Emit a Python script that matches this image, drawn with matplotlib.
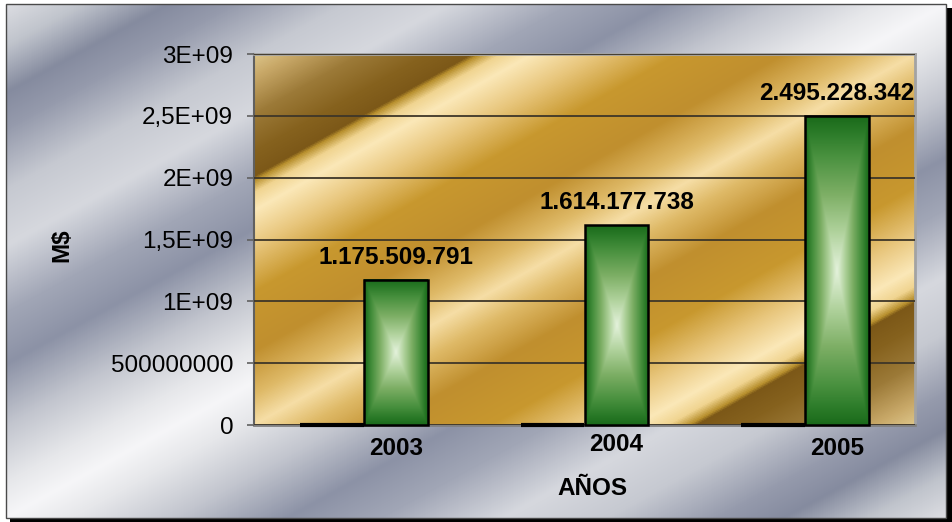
import numpy as np
import matplotlib
matplotlib.use("Agg")
import matplotlib.pyplot as plt
from matplotlib.colors import LinearSegmentedColormap
from matplotlib.patches import Rectangle
from matplotlib.transforms import ScaledTranslation

plt.rcParams['font.family'] = ['Liberation Sans', 'DejaVu Sans']

# --- data -------------------------------------------------------------
years = ["2003", "2004", "2005"]
base_series = [0, 0, 0]
amounts = [1175509791, 1614177738, 2495228342]
y_ticks = [0, 500000000, 1000000000, 1500000000, 2000000000, 2500000000, 3000000000]
y_tick_labels = ["0", "500000000", "1E+09", "1,5E+09", "2E+09", "2,5E+09", "3E+09"]
x_title = "AÑOS"
y_title = "M$"

# --- canvas -----------------------------------------------------------
W, H = 953, 522
fig = plt.figure(figsize=(W / 100, H / 100), dpi=100, facecolor='white')


def rect(px_left, px_top, px_right, px_bottom):
    """Figure-fraction rectangle from pixel edges (origin top-left)."""
    return [px_left / W, 1 - px_bottom / H, (px_right - px_left) / W, (px_bottom - px_top) / H]


def diagonal_fill(nx, ny, stops):
    """Linear fill running from the top-left to the bottom-right corner."""
    cmap = LinearSegmentedColormap.from_list("fill", stops, N=1024)
    u = np.linspace(0, 1, nx)[None, :]
    v = np.linspace(0, 1, ny)[:, None]
    t = (u + v) / 2.0
    return cmap(t)


def mirrored(half):
    out = list(half)
    for pos, col in reversed(half[:-1]):
        out.append((1 - pos, col))
    return out


silver_half = [
    (0.00, '#dcdde2'), (0.04, '#c0c4cc'), (0.085, '#858b9f'), (0.12, '#959aac'),
    (0.18, '#c6c9d1'), (0.235, '#d6d8de'), (0.30, '#a1a6b6'), (0.35, '#8c92a6'),
    (0.41, '#c2c5ce'), (0.465, '#e6e7ea'), (0.50, '#f6f6f8'),
]
gold_half = [
    (0.00, '#dcc488'), (0.03, '#c8a868'), (0.08, '#9c7a38'), (0.13, '#86621e'),
    (0.164, '#7c5818'), (0.170, '#b8902e'), (0.186, '#f0d490'), (0.21, '#fbe8b8'),
    (0.26, '#e8c67c'), (0.32, '#c8982e'), (0.40, '#c08f2e'), (0.46, '#dfba68'),
    (0.50, '#f6dea6'),
]

# chart area: metallic backdrop, frame and drop shadow
fig.patches.append(Rectangle((947 / W, 0), 6 / W, 1 - 8 / H, transform=fig.transFigure,
                             facecolor='black', edgecolor='none', zorder=0))
fig.patches.append(Rectangle((10 / W, 0), 1 - 10 / W, 4 / H, transform=fig.transFigure,
                             facecolor='black', edgecolor='none', zorder=0))
bg = fig.add_axes(rect(6, 4, 946, 518), zorder=0)
bg.imshow(diagonal_fill(940, 514, mirrored(silver_half)), extent=[0, 1, 0, 1],
          aspect='auto', interpolation='bilinear')
bg.set_xlim(0, 1)
bg.set_ylim(0, 1)
bg.set_axis_off()
fig.patches.append(Rectangle((6 / W, 1 - 518 / H), 940 / W, 514 / H, transform=fig.transFigure,
                             fill=False, edgecolor='#4a4a4a', linewidth=1.0, zorder=5))

# plot area: gold backdrop
plot_rect = rect(254, 54, 915, 425)
gold_ax = fig.add_axes(plot_rect, zorder=1)
gold_ax.imshow(diagonal_fill(661, 371, mirrored(gold_half)), extent=[0, 1, 0, 1],
               aspect='auto', interpolation='bilinear')
gold_ax.set_xlim(0, 1)
gold_ax.set_ylim(0, 1)
gold_ax.set_axis_off()

ax = fig.add_axes(plot_rect, zorder=2)
ax.patch.set_alpha(0)

x = np.arange(len(years))
bw = 0.29

ax.bar(x - bw / 2, base_series, bw, facecolor='none', edgecolor='black',
       linewidth=3.0, zorder=5, clip_on=False)
bars = ax.bar(x + bw / 2, amounts, bw, facecolor='none', edgecolor='black',
              linewidth=1.8, zorder=6, clip_on=False)

# rectangular "from centre" shading inside each bar
bar_cmap = LinearSegmentedColormap.from_list(
    "bar", [(0.0, '#e4f2dc'), (0.25, '#b0d29c'), (0.5, '#7cae64'),
            (0.75, '#48903e'), (0.9, '#2a7a28'), (1.0, '#1a6a1a')])
gx = np.abs(np.linspace(-1, 1, 80))[None, :]
gy = np.abs(np.linspace(-1, 1, 400))[:, None]
bar_img = bar_cmap(np.maximum(gx, gy))
for patch in bars:
    x0, y0 = patch.get_x(), patch.get_y()
    ax.imshow(bar_img, extent=[x0, x0 + patch.get_width(), y0, y0 + patch.get_height()],
              aspect='auto', interpolation='bilinear', zorder=4)

ax.bar_label(bars, labels=[f"{v:,}".replace(",", ".") for v in amounts], padding=8,
             fontsize=17.5, fontweight='bold', color='black')

ax.set_xlim(-0.5, len(years) - 0.5)
ax.set_ylim(y_ticks[0], y_ticks[-1])
ax.set_yticks(y_ticks)
ax.set_yticklabels(y_tick_labels)
ax.set_xticks(x + bw / 2)
ax.set_xticklabels(years, fontweight='bold')
ax.tick_params(axis='y', length=5, width=1.2, color='#606060', pad=10, labelsize=17.5)
ax.tick_params(axis='x', length=0, pad=8.7, labelsize=17.5)
# the middle category label sits a little higher
lab = ax.get_xticklabels()[1]
lab.set_transform(lab.get_transform() + ScaledTranslation(0, 4 / 100, fig.dpi_scale_trans))

ax.yaxis.grid(True, color='#3e3628', linewidth=1.3)
ax.set_axisbelow(False)
for gl in ax.get_ygridlines():
    gl.set_zorder(2)

ax.spines['top'].set_color('#a3a3a3')
ax.spines['right'].set_color('#a3a3a3')
ax.spines['top'].set_linewidth(2.0)
ax.spines['right'].set_linewidth(2.0)
ax.spines['left'].set_color('#606060')
ax.spines['left'].set_linewidth(1.5)
ax.spines['bottom'].set_color('#808080')
ax.spines['bottom'].set_linewidth(2.0)

ax.set_xlabel(x_title, fontsize=17.5, fontweight='bold')
ax.set_ylabel(y_title, fontsize=17.5, fontweight='bold')
ax.xaxis.set_label_coords((592 - 254) / 661, (425 - 477) / 371)
ax.yaxis.set_label_coords((73 - 254) / 661, (425 - 245) / 371)

fig.savefig("out.png", dpi=100, facecolor='white')
